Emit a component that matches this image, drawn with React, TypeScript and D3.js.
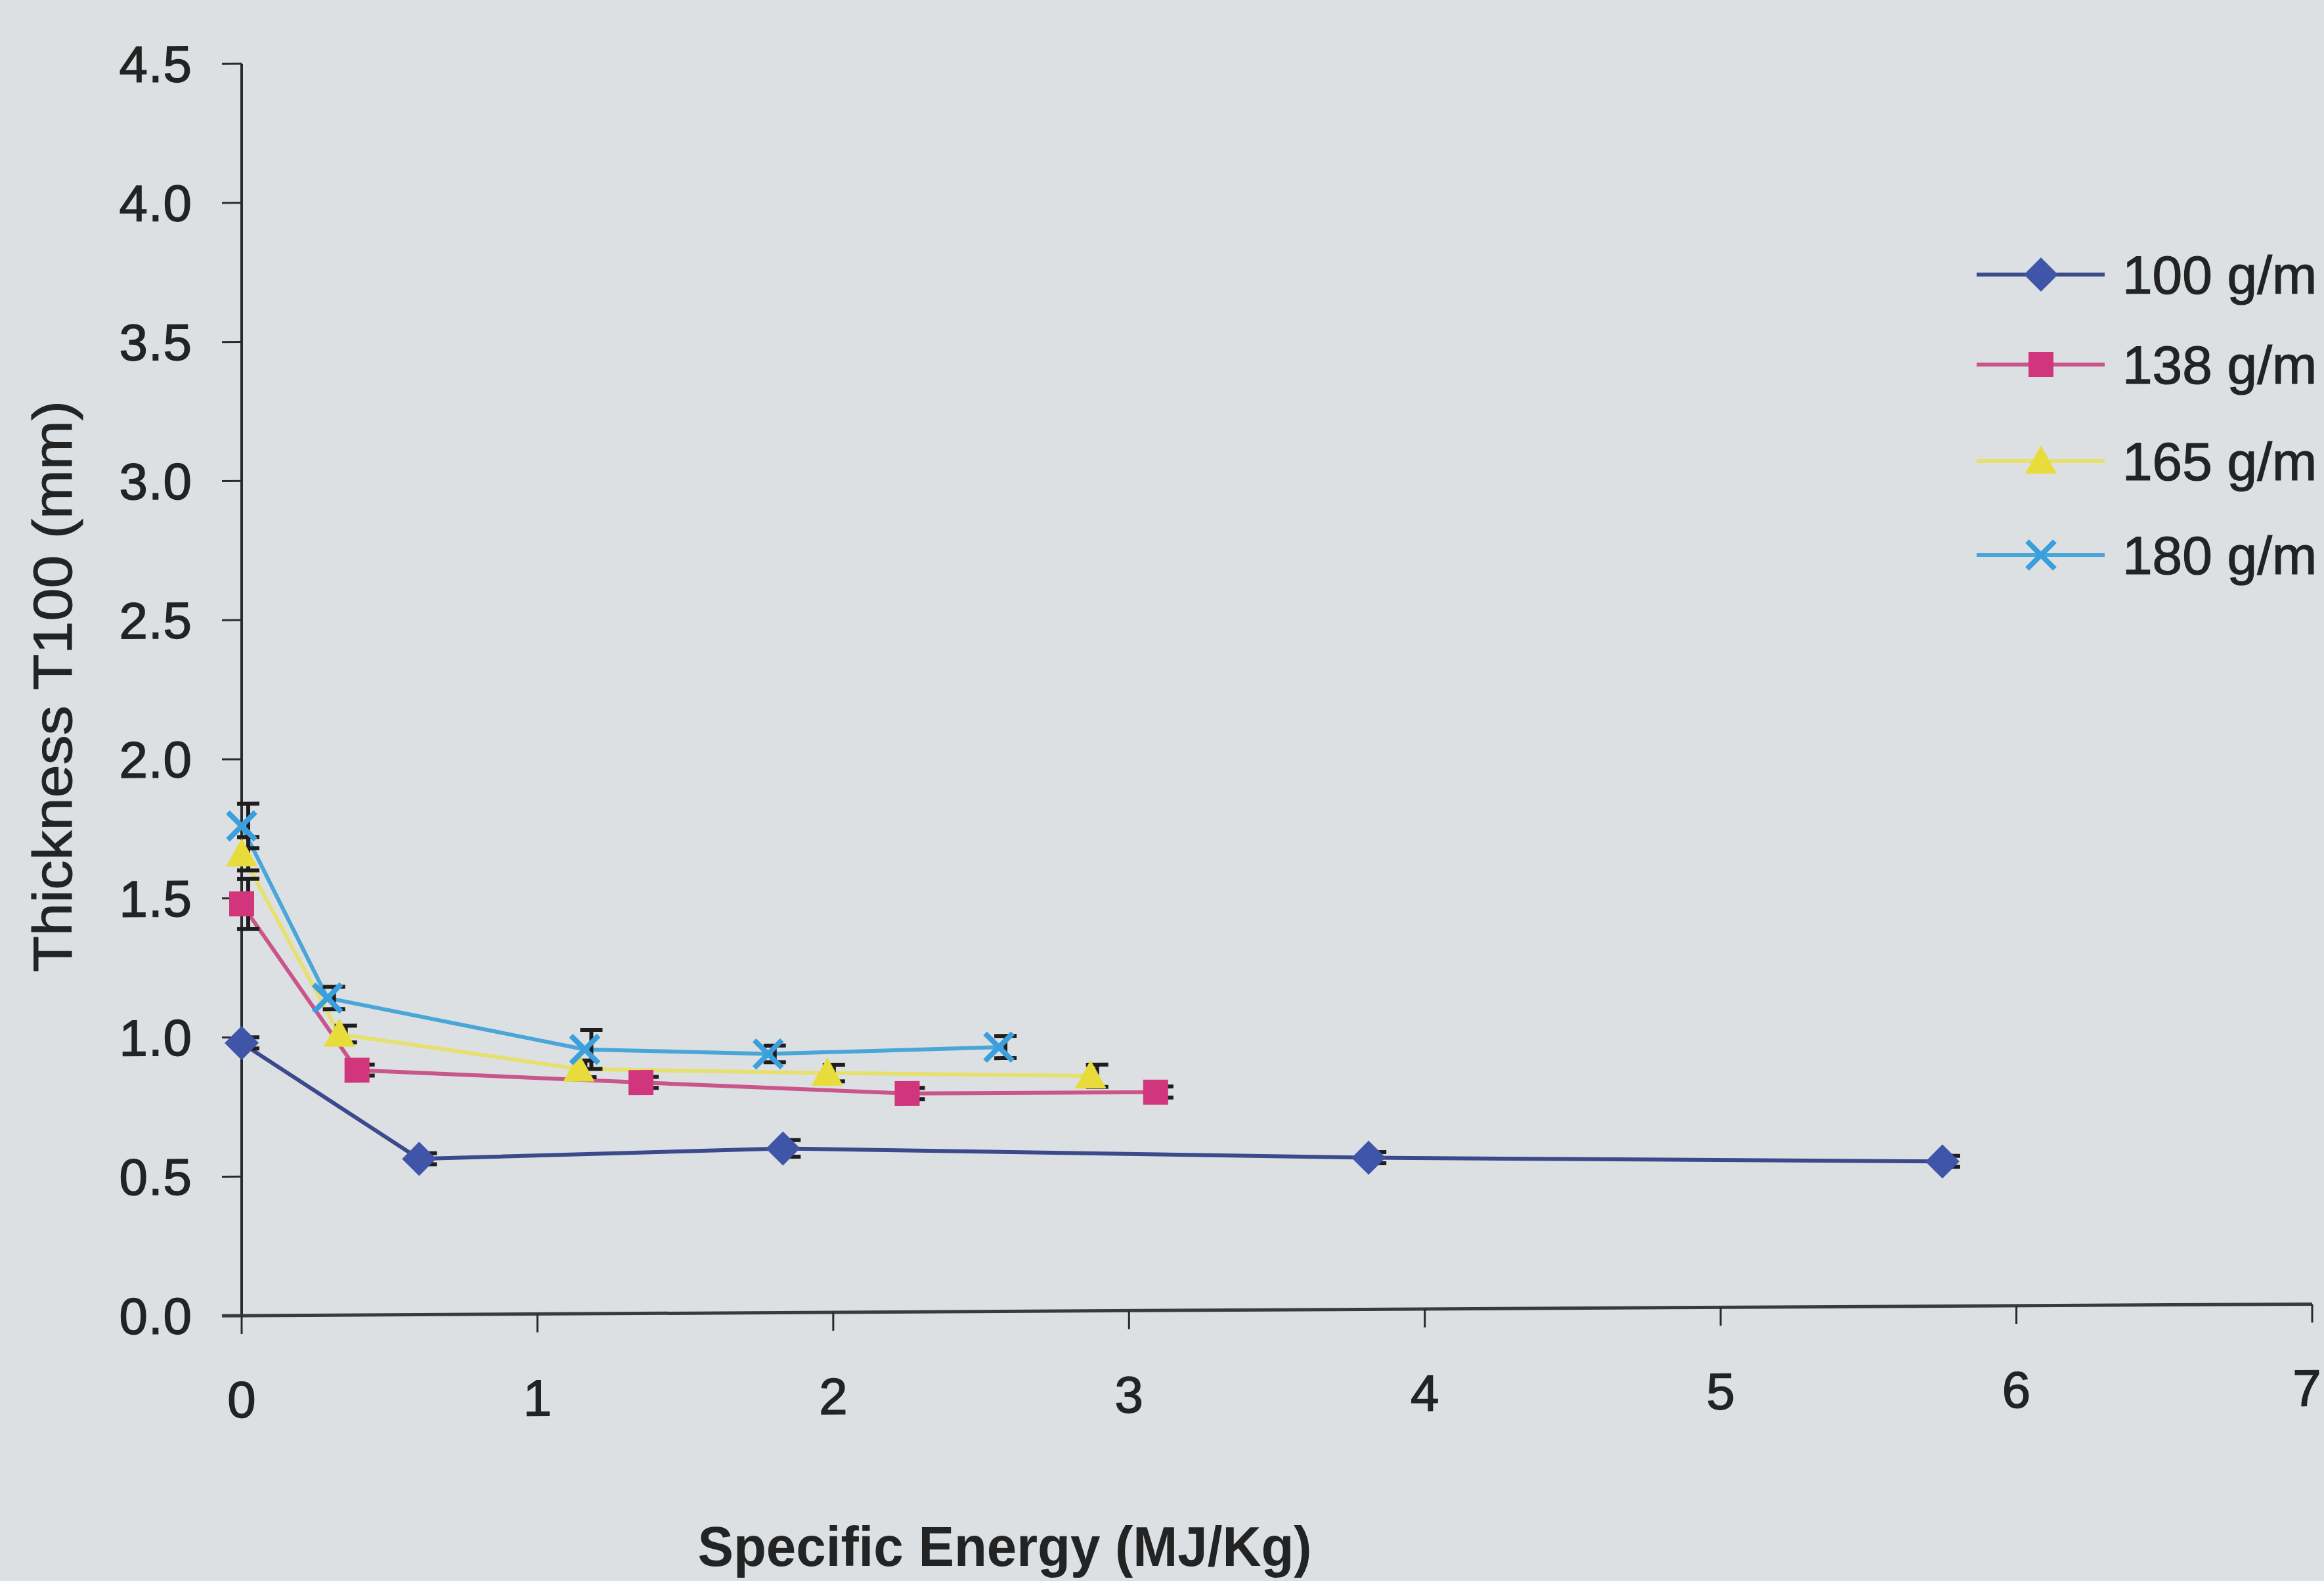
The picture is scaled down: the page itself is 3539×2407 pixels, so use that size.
import React from "react";
import * as d3 from "d3";

const seriesNames = ["100 g/m", "138 g/m", "165 g/m", "180 g/m"];
const x100 = [0, 0.6, 1.83, 3.81, 5.75];
const y100 = [0.98, 0.56, 0.59, 0.545, 0.52];
const e100 = [0.02, 0.02, 0.03, 0.02, 0.02];
const x138 = [0, 0.39, 1.35, 2.25, 3.09];
const y138 = [1.48, 0.88, 0.83, 0.785, 0.785];
const e138 = [0.09, 0.02, 0.02, 0.02, 0.02];
const x165 = [0, 0.33, 1.14, 1.98, 2.87];
const y165 = [1.66, 1.01, 0.88, 0.86, 0.845];
const e165 = [0.06, 0.03, 0.03, 0.03, 0.04];
const x180 = [0, 0.29, 1.16, 1.78, 2.56];
const y180 = [1.76, 1.14, 0.95, 0.93, 0.95];
const e180 = [0.08, 0.04, 0.07, 0.03, 0.04];
const yTicks = [0, 0.5, 1, 1.5, 2, 2.5, 3, 3.5, 4, 4.5];
const xTicks = [0, 1, 2, 3, 4, 5, 6, 7];
const xTitle = "Specific Energy (MJ/Kg)";
const yTitle = "Thickness T100 (mm)";

const W = 3539;
const H = 2407;
const x = d3.scaleLinear().domain([0, 7]).range([368, 3521]);
const y = d3.scaleLinear().domain([0, 4.5]).range([2003, 97]);

const FONT = "'Liberation Sans', Arial, sans-serif";
const TEXT = "#232323";

const series = [
  { name: seriesNames[0], xs: x100, ys: y100, es: e100, line: "#3b4a8c", fill: "#3e55a8", shape: "diamond" },
  { name: seriesNames[1], xs: x138, ys: y138, es: e138, line: "#c9558a", fill: "#d1367c", shape: "square" },
  { name: seriesNames[2], xs: x165, ys: y165, es: e165, line: "#e6e070", fill: "#e8dc3c", shape: "triangle" },
  { name: seriesNames[3], xs: x180, ys: y180, es: e180, line: "#4aa6d8", fill: "#3a9fdc", shape: "cross" },
];

function Marker({ shape, cx, cy, fill }: { shape: string; cx: number; cy: number; fill: string }) {
  if (shape === "diamond") {
    const r = 26;
    return <path d={`M${cx},${cy - r}L${cx + r},${cy}L${cx},${cy + r}L${cx - r},${cy}Z`} fill={fill} />;
  }
  if (shape === "square") {
    const s = 19;
    return <rect x={cx - s} y={cy - s} width={2 * s} height={2 * s} fill={fill} />;
  }
  if (shape === "triangle") {
    const r = 24;
    return <path d={`M${cx},${cy - r}L${cx + r},${cy + r * 0.8}L${cx - r},${cy + r * 0.8}Z`} fill={fill} />;
  }
  const r = 21;
  return (
    <path
      d={`M${cx - r},${cy - r}L${cx + r},${cy + r}M${cx + r},${cy - r}L${cx - r},${cy + r}`}
      stroke={fill}
      strokeWidth={8}
      fill="none"
    />
  );
}

export default function App() {
  const line = d3
    .line<[number, number]>()
    .x((d) => x(d[0]))
    .y((d) => y(d[1]));
  const ox = x(0);
  const oy = y(0);
  const skew = `translate(${ox},${oy}) skewY(-0.32) translate(${-ox},${-oy})`;
  const capOff = 10;
  const capW = 17;

  return (
    <div style={{ position: "absolute", left: 0, top: 0, width: W, height: H }}>
      <svg width={W} height={H} viewBox={`0 0 ${W} ${H}`} style={{ display: "block" }}>
        <rect x={0} y={0} width={W} height={H} fill="#dde0e3" />
        <g transform={skew}>
          {/* Y axis */}
          <line x1={ox} x2={ox} y1={y(4.5)} y2={oy} stroke="#2a2a2a" strokeWidth={4} />
          {yTicks.map((t) => (
            <g key={"yt" + t}>
              <line x1={ox - 30} x2={ox} y1={y(t)} y2={y(t)} stroke="#2a2a2a" strokeWidth={3} />
              <text
                x={293}
                y={y(t)}
                textAnchor="end"
                dominantBaseline="central"
                fontFamily={FONT}
                fontSize={78}
                fill={TEXT}
                stroke={TEXT}
                strokeWidth={1.5}
                letterSpacing={1}
              >
                {t.toFixed(1)}
              </text>
            </g>
          ))}
          {/* X axis */}
          <line x1={ox - 30} x2={x(7)} y1={oy} y2={oy} stroke="#3a3a3a" strokeWidth={5} />
          {xTicks.map((t, i) => (
            <g key={"xt" + t}>
              <line x1={x(t)} x2={x(t)} y1={oy} y2={oy + 28} stroke="#2a2a2a" strokeWidth={3} />
              <text
                x={x(t) - (i === xTicks.length - 1 ? 8 : 0)}
                y={oy + 128}
                textAnchor="middle"
                dominantBaseline="central"
                fontFamily={FONT}
                fontSize={78}
                fill={TEXT}
                stroke={TEXT}
                strokeWidth={1.5}
              >
                {t}
              </text>
            </g>
          ))}
          {/* series lines */}
          {series.map((s) => (
            <path
              key={"l" + s.name}
              d={line(s.xs.map((v, i) => [v, s.ys[i]] as [number, number])) || ""}
              fill="none"
              stroke={s.line}
              strokeWidth={6}
            />
          ))}
          {/* error bars */}
          {series.map((s) =>
            s.xs.map((v, i) => {
              const cx = x(v) + capOff;
              const top = y(s.ys[i] + s.es[i]);
              const bot = y(s.ys[i] - s.es[i]);
              return (
                <g key={"e" + s.name + i} stroke="#1e1e1e" strokeWidth={6}>
                  <line x1={cx} x2={cx} y1={top} y2={bot} />
                  <line x1={cx - capW} x2={cx + capW} y1={top} y2={top} />
                  <line x1={cx - capW} x2={cx + capW} y1={bot} y2={bot} />
                </g>
              );
            })
          )}
          {/* markers */}
          {series.map((s) =>
            s.xs.map((v, i) => (
              <Marker key={"m" + s.name + i} shape={s.shape} cx={x(v)} cy={y(s.ys[i])} fill={s.fill} />
            ))
          )}
        </g>
        {/* axis titles */}
        <text
          x={1530}
          y={2354}
          textAnchor="middle"
          dominantBaseline="central"
          fontFamily={FONT}
          fontSize={86}
          fontWeight="bold"
          fill={TEXT}
          textLength={935}
          lengthAdjust="spacingAndGlyphs"
        >
          {xTitle}
        </text>
        <text
          transform={`translate(80,1045) rotate(-90)`}
          textAnchor="middle"
          dominantBaseline="central"
          fontFamily={FONT}
          fontSize={84}
          fill={TEXT}
          stroke={TEXT}
          strokeWidth={1}
          textLength={870}
          lengthAdjust="spacingAndGlyphs"
        >
          {yTitle}
        </text>
        {/* legend */}
        {series.map((s, i) => {
          const ly = [418, 555, 702, 845][i];
          return (
            <g key={"lg" + s.name}>
              <line x1={3010} x2={3205} y1={ly} y2={ly} stroke={s.line} strokeWidth={6} />
              <Marker shape={s.shape} cx={3108} cy={ly} fill={s.fill} />
              <text
                x={3232}
                y={ly}
                dominantBaseline="central"
                fontFamily={FONT}
                fontSize={82}
                fill={TEXT}
                stroke={TEXT}
                strokeWidth={1.2}
              >
                {s.name}
              </text>
            </g>
          );
        })}
      </svg>
    </div>
  );
}
